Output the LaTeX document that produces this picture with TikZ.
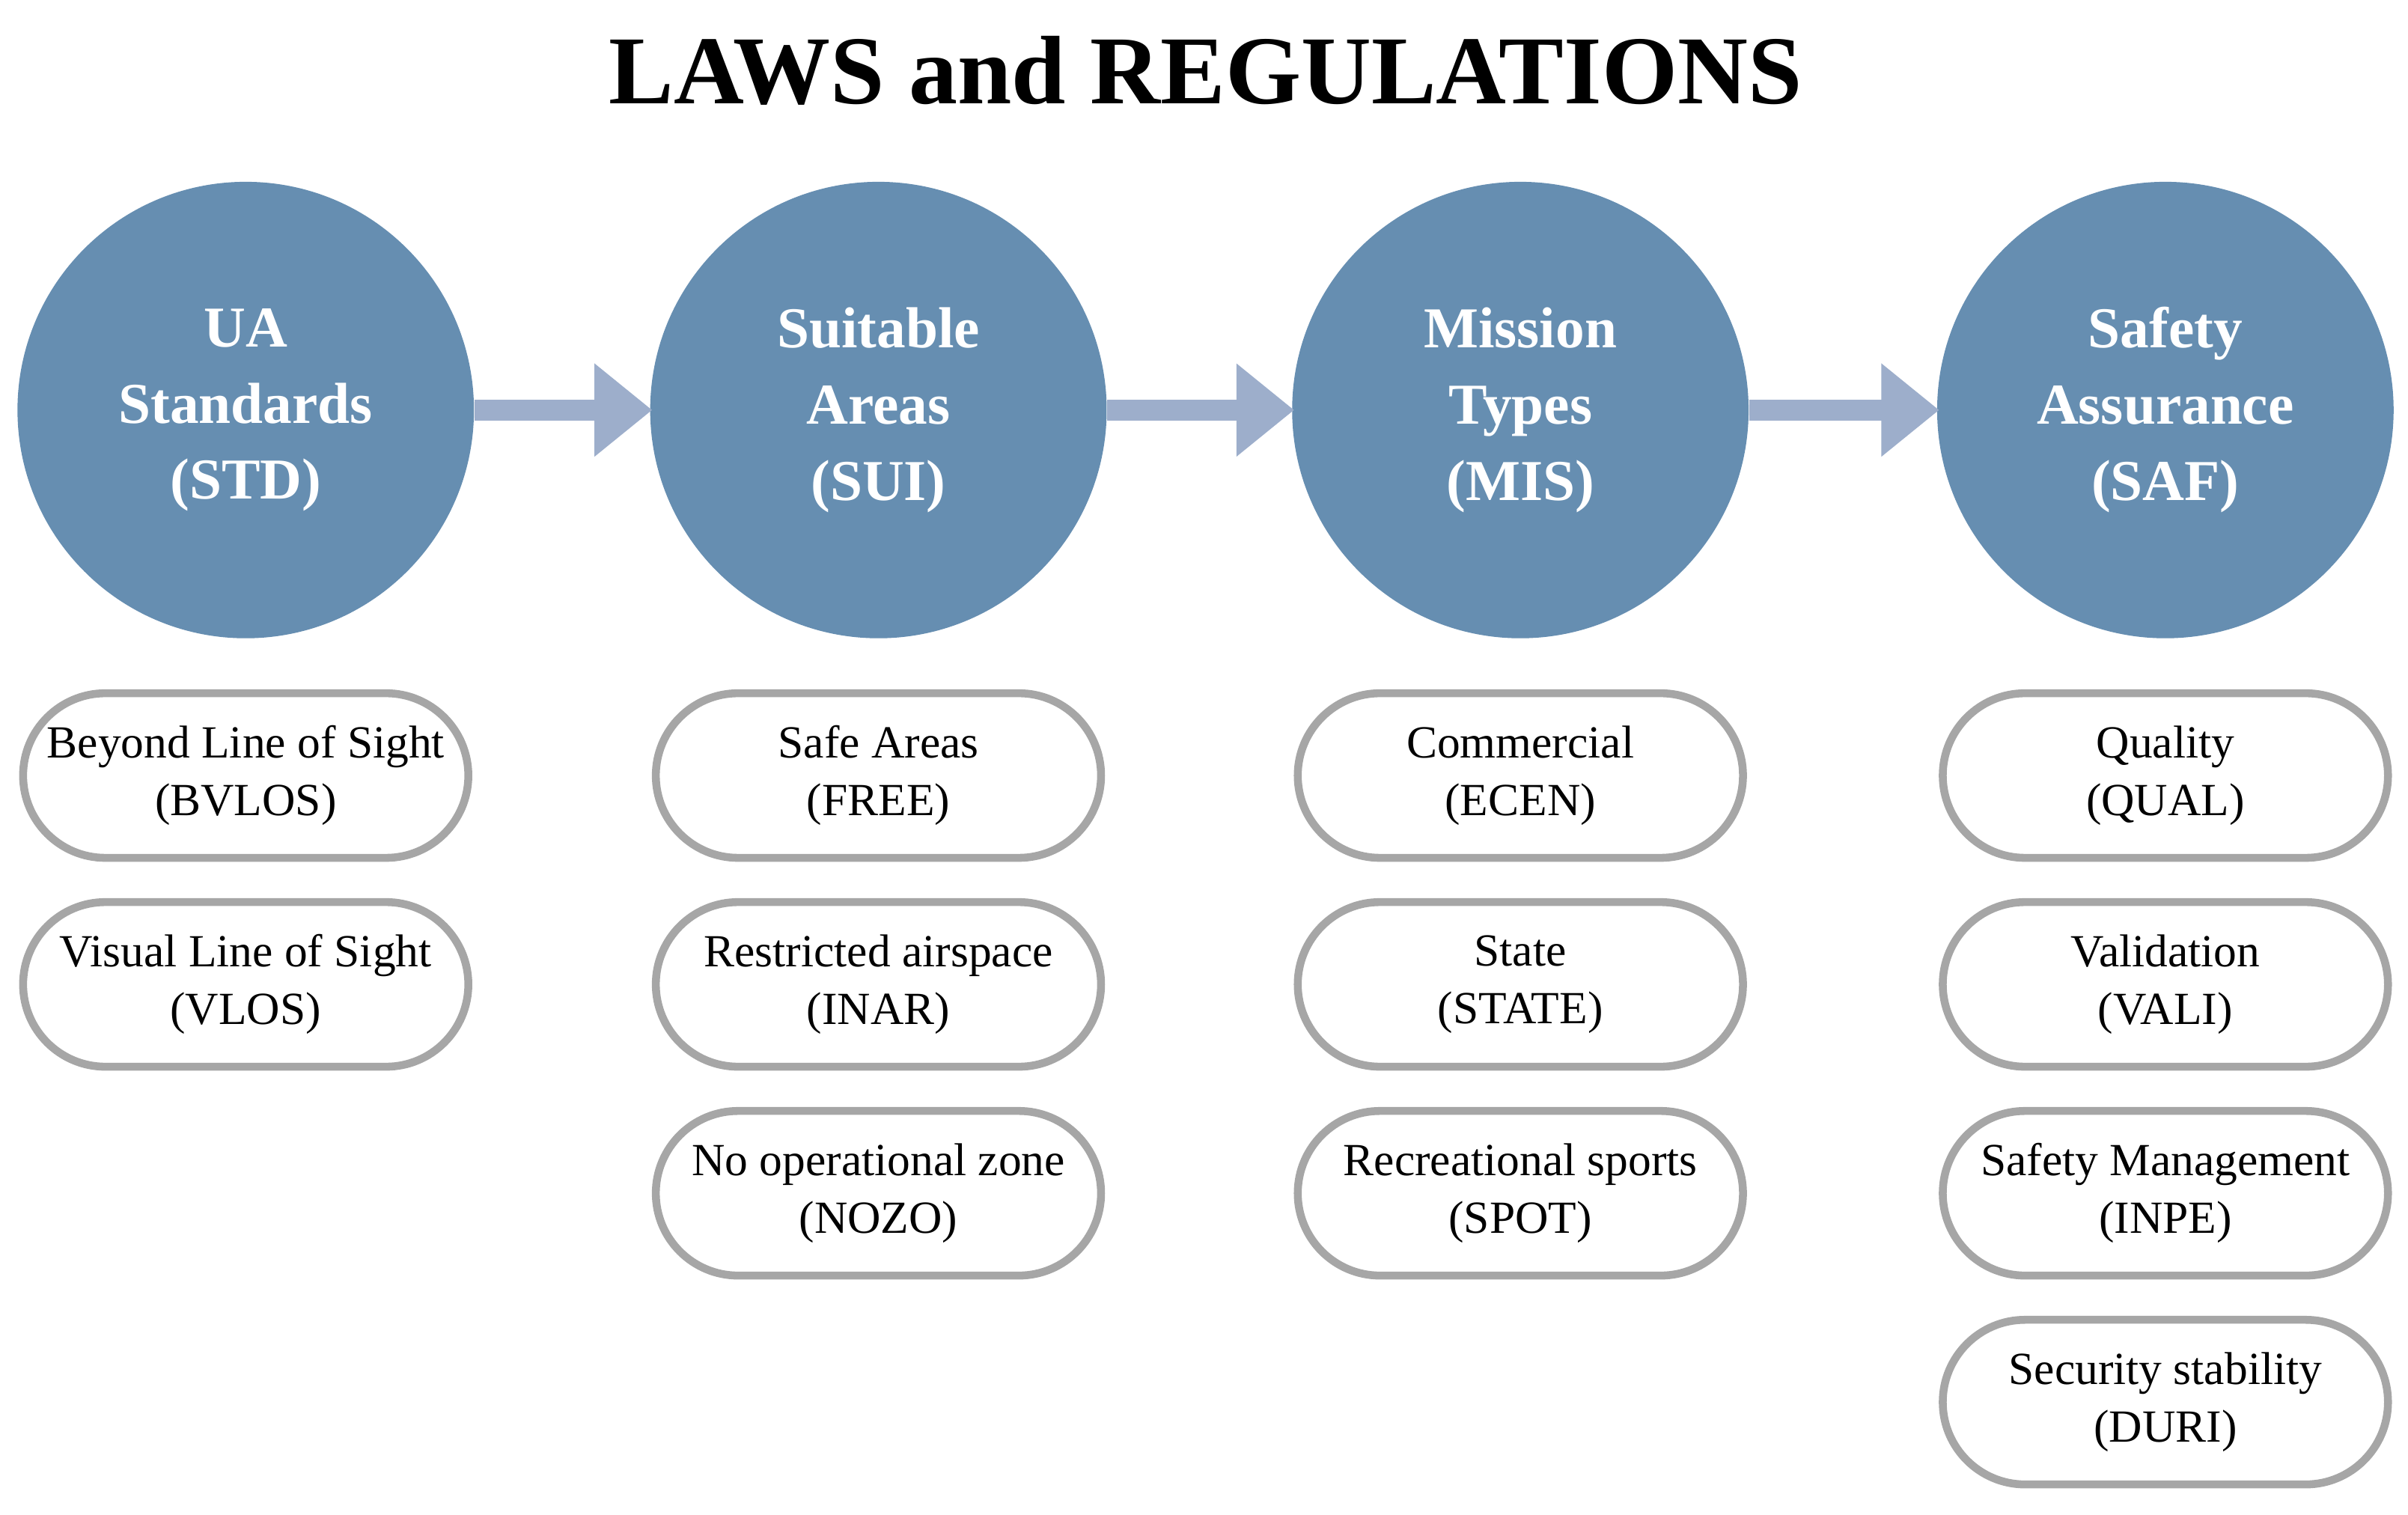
\documentclass[tikz,border=0pt]{standalone}
\usepackage{fontspec}
\setmainfont{Liberation Serif}
\usetikzlibrary{shapes.misc,arrows.meta}
\definecolor{cblue}{HTML}{668EB1}
\definecolor{carrow}{HTML}{9DAECB}
\definecolor{cgray}{HTML}{A6A6A6}
\tikzset{
 big/.style={circle,fill=cblue,minimum size=6.1cm,inner sep=0pt,text=white,font=\fontsize{22}{29}\selectfont\bfseries,align=center},
 pill/.style={rounded rectangle,draw=cgray,line width=3pt,fill=white,minimum width=5.95cm,minimum height=2.2cm,inner sep=0pt,font=\fontsize{17.5}{22}\selectfont,align=center},
 conn/.style={carrow,line width=8pt,-{Triangle[length=22pt,width=34pt]},shorten >=-1pt}
}
\begin{document}
\begin{tikzpicture}[x=0.020517cm,y=-0.020517cm]
\useasboundingbox (0,0) rectangle (1568,986.5);
\node[font=\fontsize{37}{40}\selectfont\bfseries] (title) at (785,46) {LAWS and REGULATIONS};
\node[big] (c1) at (160,267) {UA\\Standards\\(STD)};
\node[big] (c2) at (572,267) {Suitable\\Areas\\(SUI)};
\node[big] (c3) at (990,267) {Mission\\Types\\(MIS)};
\node[big] (c4) at (1410,267) {Safety\\Assurance\\(SAF)};
\draw[conn] (c1) -- (c2);
\draw[conn] (c2) -- (c3);
\draw[conn] (c3) -- (c4);
\node[pill] (a1) at (160,505) {Beyond Line of Sight\\(BVLOS)};
\node[pill] (a2) at (160,641) {Visual Line of Sight\\(VLOS)};
\node[pill] (b1) at (572,505) {Safe Areas\\(FREE)};
\node[pill] (b2) at (572,641) {Restricted airspace\\(INAR)};
\node[pill] (b3) at (572,777) {No operational zone\\(NOZO)};
\node[pill] (m1) at (990,505) {Commercial\\(ECEN)};
\node[pill] (m2) at (990,641) {State\\(STATE)};
\node[pill] (m3) at (990,777) {Recreational sports\\(SPOT)};
\node[pill] (s1) at (1410,505) {Quality\\(QUAL)};
\node[pill] (s2) at (1410,641) {Validation\\(VALI)};
\node[pill] (s3) at (1410,777) {Safety Management\\(INPE)};
\node[pill] (s4) at (1410,913) {Security stability\\(DURI)};
\end{tikzpicture}
\end{document}
